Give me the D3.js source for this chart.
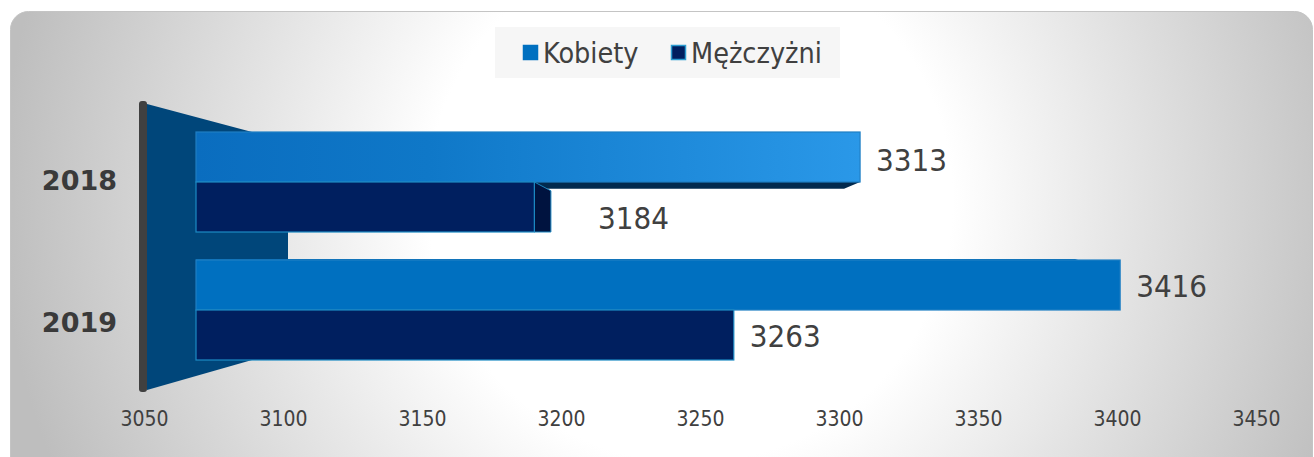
<!DOCTYPE html>
<html>
<head>
<meta charset="utf-8">
<script src="https://cdn.jsdelivr.net/npm/d3@7"></script>
<style>
  html, body { margin: 0; padding: 0; background: #ffffff; }
  svg { display: block; }
</style>
</head>
<body>
<svg id="chart" width="1314" height="457"></svg>
<script>
// ---- data ----
const years = ["2018", "2019"];
const seriesNames = ["Kobiety", "Mężczyżni"];
const kobiety = [3313, 3416];
const mezczyzni = [3184, 3263];
const tickValues = [3050, 3100, 3150, 3200, 3250, 3300, 3350, 3400, 3450];
const xDomain = [3050, 3450];

const colors = {
  "Kobiety": "#0070c0",
  "Mężczyżni": "#001f5f"
};

// ---- setup ----
const svg = d3.select("#chart");
const defs = svg.append("defs");

const bg = defs.append("radialGradient").attr("id", "bgGrad")
  .attr("gradientUnits", "userSpaceOnUse")
  .attr("cx", 690).attr("cy", 200).attr("r", 690);
bg.append("stop").attr("offset", "0").attr("stop-color", "#ffffff");
bg.append("stop").attr("offset", "0.38").attr("stop-color", "#ffffff");
bg.append("stop").attr("offset", "1").attr("stop-color", "#bebebe");

const kGrad = defs.append("linearGradient").attr("id", "kGrad")
  .attr("x1", 0).attr("x2", 1).attr("y1", 0).attr("y2", 0);
kGrad.append("stop").attr("offset", "0").attr("stop-color", "#0a6dbf");
kGrad.append("stop").attr("offset", "0.35").attr("stop-color", "#0f78c8");
kGrad.append("stop").attr("offset", "1").attr("stop-color", "#2a98e8");

// card
svg.append("rect")
  .attr("x", 10.5).attr("y", 11.5)
  .attr("width", 1302).attr("height", 480)
  .attr("rx", 18).attr("ry", 18)
  .attr("fill", "url(#bgGrad)")
  .attr("stroke", "#c4c4c4").attr("stroke-width", 1);

// scales
const xAxis = d3.scaleLinear().domain(xDomain).range([144, 1256]);   // back plane (tick labels)
const xBar  = d3.scaleLinear().domain(xDomain).range([196, 1206]);   // front plane of bars
const yGroup = d3.scaleBand().domain(years).range([132, 360]).paddingInner(0.21875).paddingOuter(0);
const ySub = d3.scaleBand().domain(seriesNames).range([0, yGroup.bandwidth()]);
const yLabel = d3.scalePoint().domain(years).range([180, 322]);

// perspective helper (vanishing point)
const VP = { x: 700, y: 250 }, depthK = 0.1;
const back = (x, y) => [VP.x + (x - VP.x) * (1 - depthK), VP.y + (y - VP.y) * (1 - depthK)];

// ---- back wall ----
const wallTop = yGroup.range()[0] - 28, wallBot = yGroup.range()[1] + 30;
const x0 = xBar(xDomain[0]);
const wallL = x0 - 49, wallR = x0 + 56;
svg.append("path")
  .attr("d", d3.line()([[wallL, wallTop], [wallR, yGroup.range()[0]], [wallR, yGroup.range()[1]], [wallL, wallBot]]) + "Z")
  .attr("fill", "#00467a");
const gapTop = yGroup("2018") + yGroup.bandwidth();
svg.append("rect")
  .attr("x", wallL).attr("y", gapTop)
  .attr("width", x0 + 92 - wallL).attr("height", yGroup("2019") - gapTop)
  .attr("fill", "#00467a");
svg.append("rect")
  .attr("x", wallL - 8).attr("y", wallTop - 3)
  .attr("width", 8).attr("height", wallBot - wallTop + 5)
  .attr("rx", 3)
  .attr("fill", "#404040");

// ---- bars ----
const bars = [];
years.forEach((yr, i) => {
  bars.push({ year: yr, series: "Kobiety", value: kobiety[i] });
  bars.push({ year: yr, series: "Mężczyżni", value: mezczyzni[i] });
});

const gBars = svg.append("g");
bars.forEach(b => {
  const xl = xBar(xDomain[0]), xr = xBar(b.value);
  const yt = yGroup(b.year) + ySub(b.series), yb = yt + ySub.bandwidth();
  const isFirst = b.series === seriesNames[0];
  const g = gBars.append("g");
  // bottom face (only visible for upper bar of a group)
  if (isFirst && yb < VP.y) {
    const [bxr, byr] = back(xr, yb);
    g.append("path")
      .attr("d", d3.line()([[xl + 4, yb], [xr, yb], [bxr, byr], [xl + 4, byr]]) + "Z")
      .attr("fill", "#022a4e");
  }
  // top face
  if (isFirst && yt > VP.y) {
    const [bxr, byr] = back(xr, yt);
    g.append("path")
      .attr("d", d3.line()([[xl, yt], [xr - 45, yt], [bxr, byr], [xl, byr]]) + "Z")
      .attr("fill", d3.color(colors[b.series]).darker(0.3));
  }
  // right side face
  let sideX = xr;
  if (xr < VP.x && yb <= VP.y) {
    const [bx1, by1] = back(xr, yt);
    sideX = bx1;
    g.append("path")
      .attr("d", d3.line()([[xr, yt], [bx1, by1 + 2], [bx1, yb], [xr, yb]]) + "Z")
      .attr("fill", "#00133f")
      .attr("stroke", "#1b86c0").attr("stroke-width", 1);
  }
  // front face
  g.append("rect")
    .attr("x", xl).attr("y", yt)
    .attr("width", xr - xl).attr("height", yb - yt)
    .attr("fill", isFirst && yb < VP.y ? "url(#kGrad)" : colors[b.series])
    .attr("stroke", isFirst ? "#1f7fc4" : "#1c8ac4").attr("stroke-width", 1.2);
  b.labelX = (sideX > xr ? sideX + 47 : xr + 16);
  b.labelY = (yt + yb) / 2 + (sideX > xr ? 11 : (yb < VP.y ? 3 : 1));
});

// data labels
svg.append("g").selectAll("text").data(bars).join("text")
  .attr("x", d => d.labelX)
  .attr("y", d => d.labelY)
  .attr("dy", "0.36em")
  .attr("font-family", "'DejaVu Sans Condensed', 'DejaVu Sans', sans-serif")
  .attr("font-stretch", "condensed")
  .attr("font-size", 31)
  .attr("fill", "#404040")
  .text(d => d.value);

// category labels
svg.append("g").selectAll("text").data(years).join("text")
  .attr("x", 117).attr("y", d => yLabel(d))
  .attr("dy", "0.36em")
  .attr("text-anchor", "end")
  .attr("font-family", "'DejaVu Sans', sans-serif")
  .attr("font-weight", "bold")
  .attr("font-size", 27)
  .attr("fill", "#3a3a3a")
  .text(d => d);

// x axis labels
const axis = d3.axisBottom(xAxis).tickValues(tickValues).tickSize(0).tickPadding(0).tickFormat(d3.format("d"));
const gAxis = svg.append("g").attr("transform", "translate(0,411)").call(axis);
gAxis.select(".domain").remove();
gAxis.selectAll("text")
  .attr("font-family", "'DejaVu Sans Condensed', 'DejaVu Sans', sans-serif")
  .attr("font-stretch", "condensed")
  .attr("font-size", 21)
  .attr("fill", "#404040");

// legend
const lg = svg.append("g");
lg.append("rect").attr("x", 495).attr("y", 27).attr("width", 345).attr("height", 51).attr("fill", "#f6f6f6");
const legX = d3.scaleOrdinal().domain(seriesNames).range([523, 671]);
seriesNames.forEach(s => {
  lg.append("rect")
    .attr("x", legX(s) + 0.5).attr("y", 45.5).attr("width", 14).attr("height", 14)
    .attr("fill", colors[s])
    .attr("stroke", s === "Kobiety" ? "#0070c0" : "#2a9bd0").attr("stroke-width", 1.5);
  lg.append("text")
    .attr("x", legX(s) + 20).attr("y", 53)
    .attr("dy", "0.36em")
    .attr("font-family", "'DejaVu Sans Condensed', 'DejaVu Sans', sans-serif")
    .attr("font-stretch", "condensed")
    .attr("font-size", 28.5)
    .attr("fill", "#404040")
    .text(s);
});
</script>
</body>
</html>
